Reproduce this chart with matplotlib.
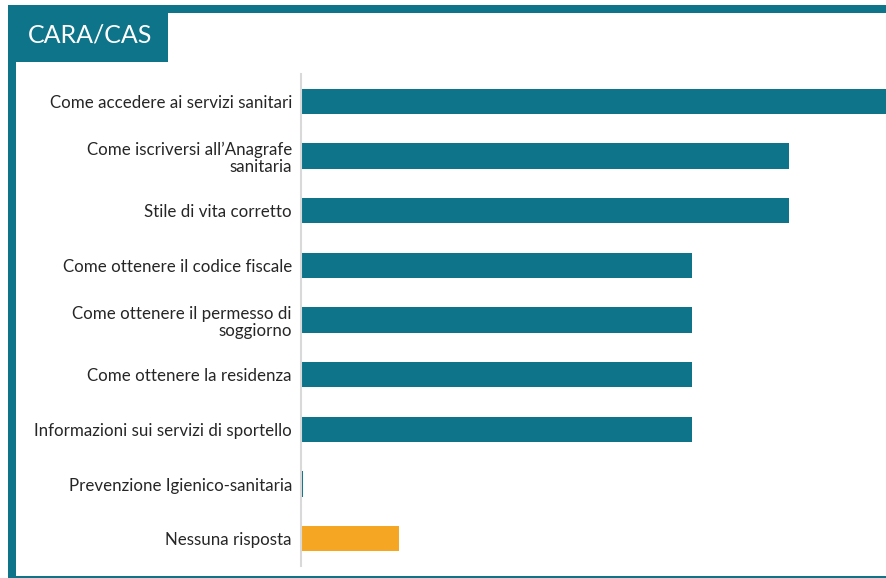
import matplotlib
matplotlib.use('Agg')
import matplotlib.pyplot as plt
from matplotlib.patches import Rectangle

# Data
categories = [
    'Come accedere ai servizi sanitari',
    'Come iscriversi all\u2019Anagrafe\nsanitaria',
    'Stile di vita corretto',
    'Come ottenere il codice fiscale',
    'Come ottenere il permesso di\nsoggiorno',
    'Come ottenere la residenza',
    'Informazioni sui servizi di sportello',
    'Prevenzione Igienico-sanitaria',
    'Nessuna risposta',
]
values = [6, 5, 5, 4, 4, 4, 4, 0.025, 1]
bar_colors = ['#0e7489'] * 8 + ['#f5a623']
title = 'CARA/CAS'

teal = '#0e7489'
plt.rcParams['font.family'] = ['Lato', 'DejaVu Sans']

W, H = 887, 578
fig = plt.figure(figsize=(W / 100, H / 100), dpi=100)

def rect(x0, y0, x1, y1, color):
    # pixel coords (top-left origin) -> figure fraction
    fig.patches.append(Rectangle((x0 / W, 1 - y1 / H), (x1 - x0) / W, (y1 - y0) / H,
                                 transform=fig.transFigure, color=color, zorder=0, lw=0))

# frame borders and title box
rect(8, 5, W, 13, teal)
rect(8, 5, 16, H, teal)
rect(8, 576, W, H, teal)
rect(8, 5, 168, 62, teal)
fig.text(28 / W, 1 - 35 / H, title, color='white', fontsize=18, va='center', ha='left')

ax = fig.add_axes([301 / W, 1 - 566 / H, (W - 301) / W, (566 - 74) / H])
y = range(len(categories))
ax.barh(y, values, height=0.46, color=bar_colors)
ax.set_xlim(0, 6)
ax.set_ylim(len(categories) - 0.5, -0.5)
ax.set_yticks(list(y))
ax.set_yticklabels(categories, fontsize=12.2, color='#262626', ha='right', linespacing=1.12)
ax.tick_params(axis='y', length=0, pad=6.5)
ax.set_xticks([])
for s in ['top', 'right', 'bottom']:
    ax.spines[s].set_visible(False)
ax.spines['left'].set_color('#d9d9d9')
ax.spines['left'].set_linewidth(1.5)
ax.patch.set_alpha(0)

fig.savefig('out.png', dpi=100)
